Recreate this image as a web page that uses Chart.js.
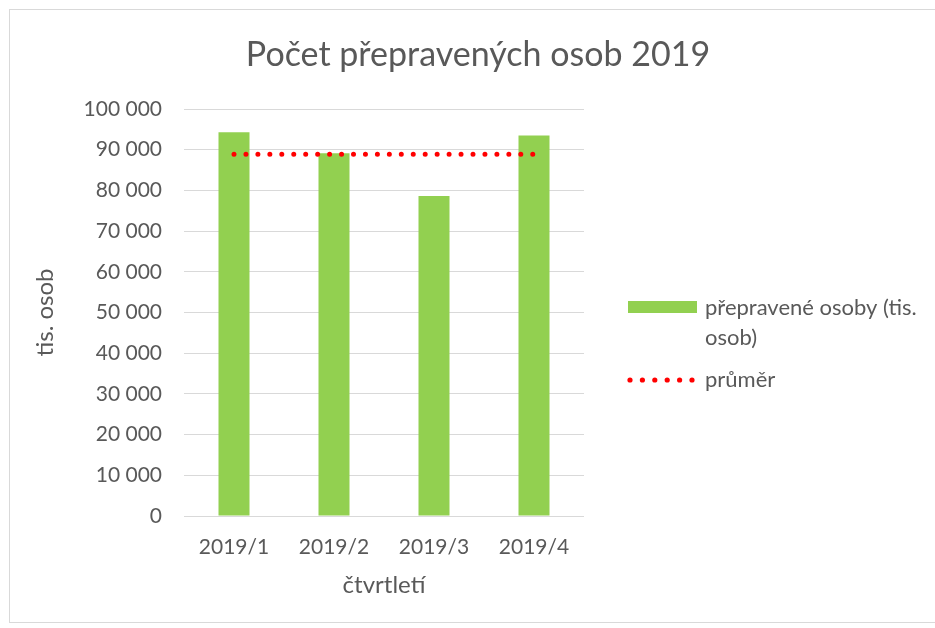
<!DOCTYPE html>
<html>
<head>
<meta charset="utf-8">
<script src="https://cdn.jsdelivr.net/npm/chart.js@4.4.1/dist/chart.umd.min.js"></script>
<style>
  html, body { margin: 0; padding: 0; background: #fff; overflow: hidden; }
  .chartBox {
    position: absolute; left: 9px; top: 9px;
    width: 936px; height: 612px;
    border: 1px solid #d9d9d9;
  }
</style>
</head>
<body>
<div class="chartBox">
  <canvas id="passengers" width="936" height="612"></canvas>
</div>
<script>
const quarters = ['2019/1', '2019/2', '2019/3', '2019/4'];
const passengers = [94300, 89100, 78600, 93500];
const average = passengers.reduce((a, b) => a + b, 0) / passengers.length;
const averageLine = quarters.map(() => average);
const seriesLabels = ['přepravené osoby (tis. osob)', 'průměr'];
const legendLines = [['přepravené osoby (tis.', 'osob)'], ['průměr']];
const chartTitle = 'Počet přepravených osob 2019';

const FONT = 'Lato, "Open Sans", sans-serif';
const GREY = '#595959';

const fmt = v => String(v).replace(/\B(?=(\d{3})+(?!\d))/g, ' ');

// title over the whole box + legend on the right with the wrapped label
const sideLegend = {
    id: 'sideLegend',
    afterDraw(chart) {
        const ctx = chart.ctx;
        ctx.save();
        ctx.textBaseline = 'middle';

        ctx.font = '34px ' + FONT;
        ctx.fillStyle = GREY;
        ctx.textAlign = 'center';
        ctx.fillText(chartTitle, chart.width / 2, 45);

        ctx.font = '22px ' + FONT;
        ctx.textAlign = 'left';
        ctx.fillStyle = '#92d050';
        ctx.fillRect(618, 291, 69, 12);
        ctx.fillStyle = GREY;
        legendLines[0].forEach((t, i) => ctx.fillText(t, 695, 298 + i * 30));

        ctx.fillStyle = '#ff0000';
        for (let i = 0; i < 6; i++) {
            ctx.beginPath();
            ctx.arc(620 + i * 12.4, 370, 2.6, 0, Math.PI * 2);
            ctx.fill();
        }
        ctx.fillStyle = GREY;
        ctx.fillText(legendLines[1][0], 695, 370);
        ctx.restore();
    }
};

const chartContext = document.getElementById('passengers').getContext('2d');

new Chart(chartContext, {
    data: {
        labels: quarters,
        datasets: [
            {
                type: 'bar',
                label: seriesLabels[0],
                data: passengers,
                backgroundColor: '#92d050',
                barPercentage: 0.31,
                categoryPercentage: 1,
                order: 2
            },
            {
                type: 'line',
                label: seriesLabels[1],
                data: averageLine,
                borderColor: '#ff0000',
                borderWidth: 5,
                borderDash: [0, 11.95],
                borderCapStyle: 'round',
                pointRadius: 0,
                fill: false,
                order: 1
            }
        ]
    },
    options: {
        responsive: false,
        animation: false,
        layout: { padding: { top: 99, right: 362, bottom: 22.6, left: 0 } },
        plugins: {
            legend: { display: false },
            tooltip: { enabled: false },
            title: { display: false }
        },
        scales: {
            x: {
                afterFit(scale) { scale.height = 83.4; },
                grid: { display: false, drawTicks: false },
                border: { display: false },
                ticks: { color: GREY, font: { family: FONT, size: 21 }, padding: 19 },
                title: {
                    display: true,
                    text: 'čtvrtletí',
                    color: GREY,
                    font: { family: FONT, size: 24 },
                    padding: { top: 0, bottom: 0 }
                }
            },
            y: {
                min: 0,
                max: 100000,
                afterFit(scale) { scale.width = 174; },
                grid: { color: '#d9d9d9', lineWidth: 1, drawTicks: false },
                border: { display: false },
                ticks: {
                    stepSize: 10000,
                    color: GREY,
                    padding: 22,
                    font: { family: FONT, size: 21 },
                    callback: v => fmt(v)
                },
                title: {
                    display: true,
                    text: 'tis. osob',
                    color: GREY,
                    font: { family: FONT, size: 24 },
                    padding: { top: 21, bottom: 0 }
                }
            }
        }
    },
    plugins: [sideLegend]
});
</script>
</body>
</html>
